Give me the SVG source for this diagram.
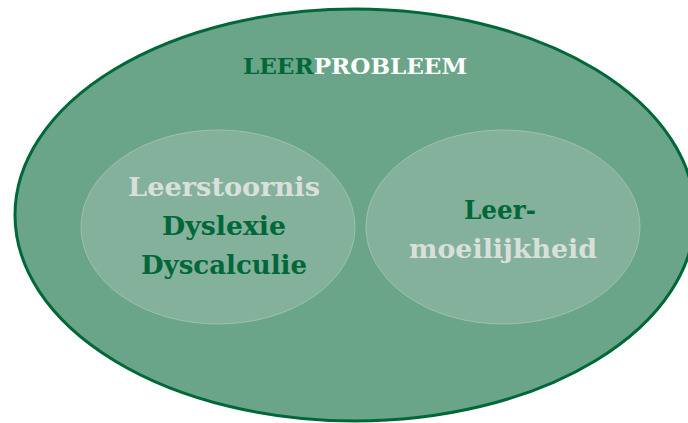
<svg xmlns="http://www.w3.org/2000/svg" width="688" height="423" viewBox="0 0 688 423">
<style>
.outer{fill:#6aa589;stroke:#006838;stroke-width:3}
.inner{fill:#84b19b;stroke:#9cc2ad;stroke-width:1}
text{font-family:"DejaVu Serif","Liberation Serif",serif;font-weight:bold;text-anchor:middle}
.dark{fill:#006838}
.light{fill:#d9e0db}
.white{fill:#ffffff}
.lbl{font-size:26px}
</style>
<g id="leerprobleem">
<ellipse class="outer" cx="355" cy="215" rx="340" ry="206"/>
<text x="355" y="74" font-size="23" textLength="224" lengthAdjust="spacingAndGlyphs"><tspan class="dark">LEER</tspan><tspan class="white">PROBLEEM</tspan></text>
</g>
<g id="leerstoornis">
<ellipse class="inner" cx="218" cy="227" rx="137" ry="97"/>
<text class="lbl light" x="224" y="196" textLength="192" lengthAdjust="spacingAndGlyphs">Leerstoornis</text>
<text class="lbl dark" x="224" y="235" textLength="124" lengthAdjust="spacingAndGlyphs">Dyslexie</text>
<text class="lbl dark" x="224" y="274" textLength="166" lengthAdjust="spacingAndGlyphs">Dyscalculie</text>
</g>
<g id="leermoeilijkheid">
<ellipse class="inner" cx="503" cy="227" rx="137" ry="97"/>
<text class="lbl dark" x="500" y="219" textLength="72" lengthAdjust="spacingAndGlyphs">Leer-</text>
<text class="lbl light" x="503" y="258" textLength="188" lengthAdjust="spacingAndGlyphs">moeilijkheid</text>
</g>
</svg>
